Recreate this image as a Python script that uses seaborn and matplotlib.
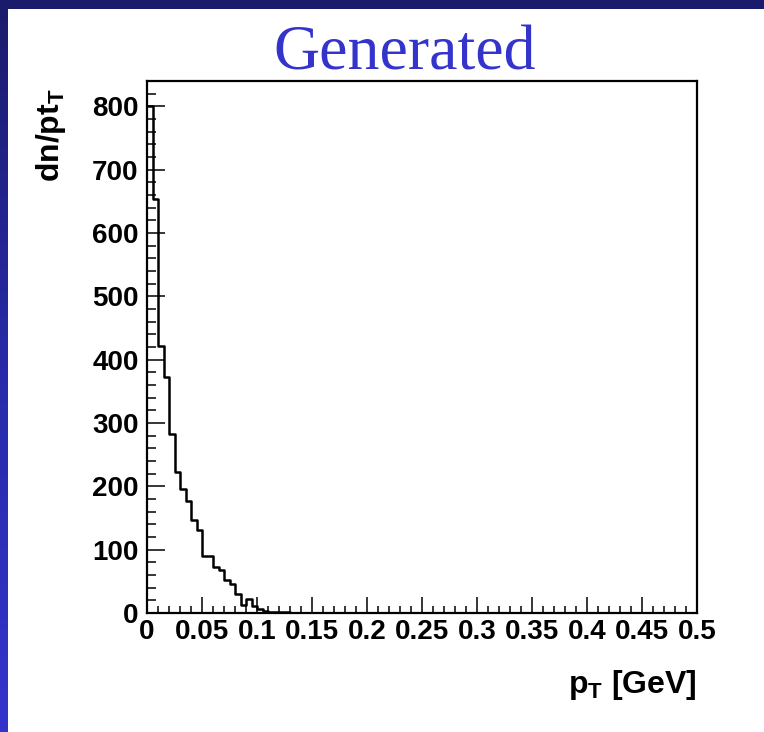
import matplotlib
matplotlib.use("Agg")
import numpy as np
import pandas as pd
import seaborn as sns
import matplotlib.pyplot as plt
from matplotlib.ticker import FixedLocator, FixedFormatter, MultipleLocator
from matplotlib.colors import LinearSegmentedColormap

# ---------------- data ----------------
bin_width = 0.005
counts = [800, 653, 422, 372, 283, 223, 196, 177, 147, 131,
          90, 90, 73, 68, 52, 46, 30, 13, 22, 11,
          6, 3, 2, 1, 1, 1]
x_ticks = [0, 0.05, 0.1, 0.15, 0.2, 0.25, 0.3, 0.35, 0.4, 0.45, 0.5]
x_tick_labels = ["0", "0.05", "0.1", "0.15", "0.2", "0.25", "0.3", "0.35", "0.4", "0.45", "0.5"]
y_ticks = [0, 100, 200, 300, 400, 500, 600, 700, 800]
y_tick_labels = ["0", "100", "200", "300", "400", "500", "600", "700", "800"]
title = "Generated"
x_label = r"p$_\mathbf{T}$ [GeV]"
y_label = r"dn/pt$_\mathbf{T}$"

# ---------------- style ----------------
sns.set_theme(style="white")
plt.rcParams["font.family"] = ["Liberation Sans", "DejaVu Sans"]
plt.rcParams["font.weight"] = "bold"
plt.rcParams["mathtext.fontset"] = "custom"
plt.rcParams["mathtext.rm"] = "Liberation Sans:bold"
plt.rcParams["mathtext.bf"] = "Liberation Sans:bold"
plt.rcParams["mathtext.it"] = "Liberation Sans:bold"

W, H = 764, 732
fig = plt.figure(figsize=(W / 100, H / 100), dpi=100)
fig.patch.set_facecolor("white")

# slide-like background bands
bg = fig.add_axes([0, 0, 1, 1], zorder=-10)
bg.set_xlim(0, W)
bg.set_ylim(H, 0)
bg.axis("off")
cmap = LinearSegmentedColormap.from_list("band", ["#1b1b6c", "#2a2aa8", "#3434cc"])
grad = np.linspace(0, 1, 256).reshape(-1, 1)
bg.imshow(grad, cmap=cmap, extent=[0, 8, H, 0], aspect="auto")
bg.add_patch(plt.Rectangle((0, 0), W, 9, color="#1b1b6c", lw=0))

# ---------------- main axes ----------------
ax = fig.add_axes([147 / W, 1 - 613 / H, 550 / W, 532 / H])
centers = np.arange(len(counts)) * bin_width + bin_width / 2
df = pd.DataFrame({"pt": centers, "count": counts})
sns.histplot(data=df, x="pt", weights="count", binwidth=bin_width, binrange=(0, 0.5),
             element="step", fill=False, color="black", linewidth=1.8, ax=ax)

ax.set_xlim(0, 0.5)
ax.set_ylim(0, 840)

ax.xaxis.set_major_locator(FixedLocator(x_ticks))
ax.xaxis.set_major_formatter(FixedFormatter(x_tick_labels))
ax.xaxis.set_minor_locator(MultipleLocator(0.01))
ax.yaxis.set_major_locator(FixedLocator(y_ticks))
ax.yaxis.set_major_formatter(FixedFormatter(y_tick_labels))
ax.yaxis.set_minor_locator(MultipleLocator(20))

ax.tick_params(which="both", direction="in", top=False, right=False,
               bottom=True, left=True, color="black", labelcolor="black")
ax.tick_params(axis="y", which="major", length=13, width=1.1, pad=6, labelsize=20)
ax.tick_params(axis="y", which="minor", length=6.3, width=1.1)
ax.tick_params(axis="x", which="major", length=11.3, width=1.1, pad=4, labelsize=20)
ax.tick_params(axis="x", which="minor", length=5.3, width=1.1)

for s in ax.spines.values():
    s.set_visible(True)
    s.set_color("black")
    s.set_linewidth(1.6)

ax.set_xlabel(x_label, fontsize=23, fontweight="bold", color="black")
ax.xaxis.set_label_coords(1.0, -0.103)
ax.xaxis.label.set(ha="right", va="top")

ax.set_ylabel(y_label, fontsize=23, fontweight="bold", color="black")
ax.yaxis.set_label_coords(-0.175, 0.987)
ax.yaxis.label.set(rotation_mode="default", ha="center", va="top")

fig.text(405 / W, 1 - 70 / H, title, family="Liberation Serif", fontsize=46,
         color="#3434cc", ha="center", va="baseline", fontweight="normal")

fig.savefig("out.png", dpi=100)
